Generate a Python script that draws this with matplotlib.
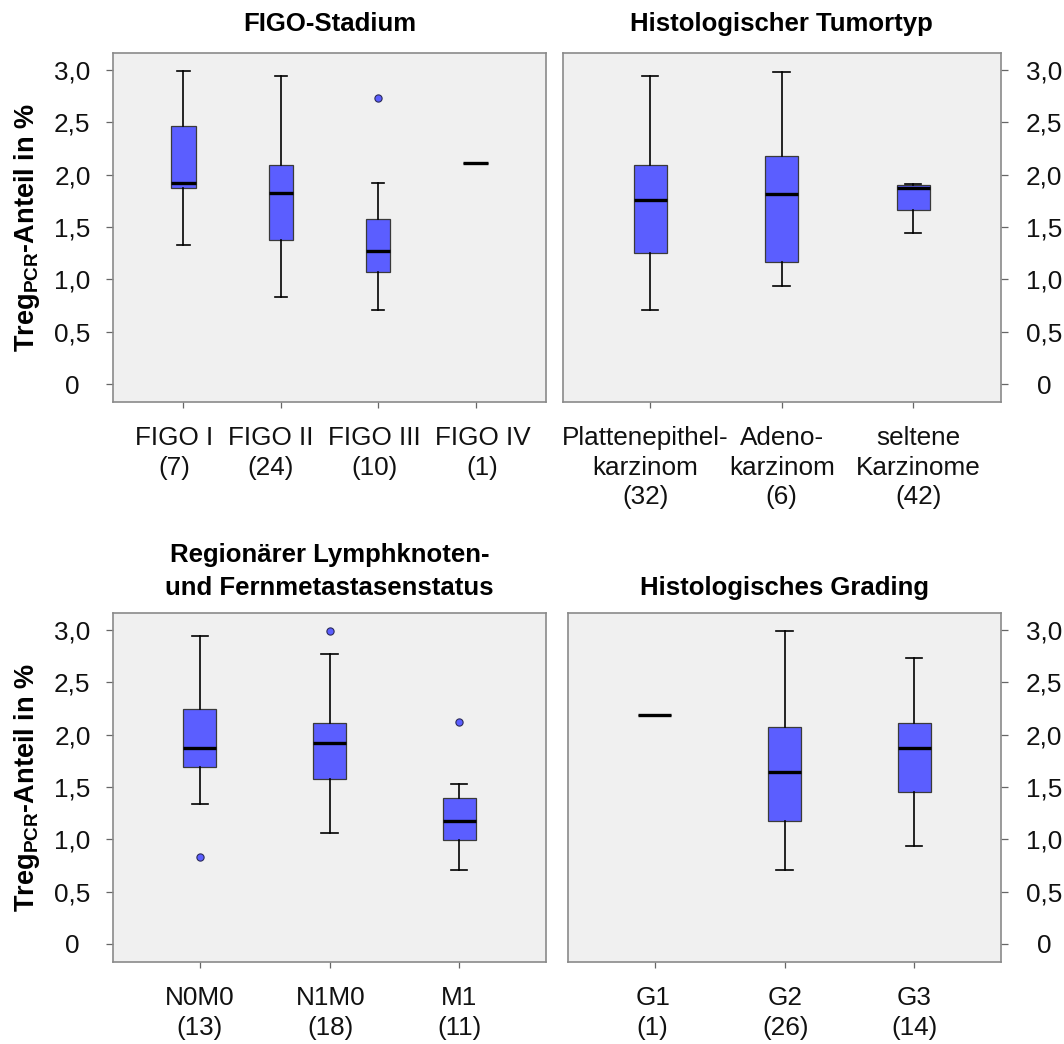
import matplotlib
matplotlib.use("Agg")
import matplotlib.pyplot as plt
from matplotlib.transforms import ScaledTranslation, blended_transform_factory

plt.rcParams["font.family"] = ["Liberation Sans", "DejaVu Sans"]
plt.rcParams["mathtext.fontset"] = "custom"
plt.rcParams["mathtext.rm"] = "Liberation Sans:bold"
plt.rcParams["mathtext.bf"] = "Liberation Sans:bold"

# ---- data: Treg_PCR share (%) by clinical group ----
figo_labels = ["FIGO I\n(7)", "FIGO II\n(24)", "FIGO III\n(10)", "FIGO IV\n(1)"]
figo_whislo = [1.33, 0.83, 0.71, 2.11]
figo_q1 = [1.87, 1.38, 1.07, 2.11]
figo_med = [1.92, 1.83, 1.27, 2.11]
figo_q3 = [2.47, 2.09, 1.58, 2.11]
figo_whishi = [2.99, 2.94, 1.92, 2.11]
figo_fliers = [[], [], [2.73], []]

histo_labels = ["Plattenepithel-\nkarzinom\n(32)", "Adeno-\nkarzinom\n(6)", "seltene\nKarzinome\n(42)"]
histo_whislo = [0.71, 0.94, 1.44]
histo_q1 = [1.25, 1.17, 1.66]
histo_med = [1.76, 1.82, 1.87]
histo_q3 = [2.09, 2.18, 1.90]
histo_whishi = [2.94, 2.98, 1.91]
histo_fliers = [[], [], []]

tnm_labels = ["N0M0\n(13)", "N1M0\n(18)", "M1\n(11)"]
tnm_whislo = [1.34, 1.06, 0.71]
tnm_q1 = [1.69, 1.58, 0.99]
tnm_med = [1.87, 1.92, 1.17]
tnm_q3 = [2.24, 2.11, 1.39]
tnm_whishi = [2.94, 2.77, 1.53]
tnm_fliers = [[0.83], [2.99], [2.12]]

grade_labels = ["G1\n(1)", "G2\n(26)", "G3\n(14)"]
grade_whislo = [2.19, 0.71, 0.94]
grade_q1 = [2.19, 1.17, 1.45]
grade_med = [2.19, 1.64, 1.87]
grade_q3 = [2.19, 2.07, 2.11]
grade_whishi = [2.19, 2.99, 2.73]
grade_fliers = [[], [], []]

ytick_values = [0, 0.5, 1.0, 1.5, 2.0, 2.5, 3.0]
ytick_labels = ["0", "0,5", "1,0", "1,5", "2,0", "2,5", "3,0"]

titles = ["FIGO-Stadium", "Histologischer Tumortyp",
          "Regionärer Lymphknoten-\nund Fernmetastasenstatus", "Histologisches Grading"]
ylabel = r"Treg$_{\mathbf{PCR}}$-Anteil in %"

BOX_COLOR = "#5B5EFF"
BG = "#F0F0F0"
FS = 18.8

# horizontal nudges (pixels) of the category labels so crowded ones don't collide
label_shift = [[-9, -10, -4, 7], [-5, 0, 5], [0, 1, 0], [-2, 1, 0]]

W, H = 1064, 1044
fig = plt.figure(figsize=(W / 100, H / 100), dpi=100)


def px_axes(left, top, right, bottom):
    return fig.add_axes([left / W, 1 - bottom / H, (right - left) / W, (bottom - top) / H])


panels = [
    (px_axes(113.3, 53, 545.7, 401.7), figo_labels, figo_whislo, figo_q1, figo_med, figo_q3, figo_whishi, figo_fliers, "left"),
    (px_axes(562.7, 53, 1000.7, 401.7), histo_labels, histo_whislo, histo_q1, histo_med, histo_q3, histo_whishi, histo_fliers, "right"),
    (px_axes(113.3, 612.7, 545.7, 961.7), tnm_labels, tnm_whislo, tnm_q1, tnm_med, tnm_q3, tnm_whishi, tnm_fliers, "left"),
    (px_axes(568.3, 612.7, 1000.7, 961.7), grade_labels, grade_whislo, grade_q1, grade_med, grade_q3, grade_whishi, grade_fliers, "right"),
]

for i, (ax, labels, lo, q1, med, q3, hi, fl, side) in enumerate(panels):
    stats = [dict(whislo=a, q1=b, med=c, q3=d, whishi=e, fliers=f)
             for a, b, c, d, e, f in zip(lo, q1, med, q3, hi, fl)]
    n = len(stats)
    pos = list(range(n))
    ax.bxp(stats, positions=pos, widths=0.25, patch_artist=True, showfliers=True,
           boxprops=dict(facecolor=BOX_COLOR, edgecolor="#3a3a3a", linewidth=0.9),
           whiskerprops=dict(color="black", linewidth=1.2),
           capprops=dict(color="black", linewidth=1.2),
           medianprops=dict(color="black", linewidth=2.4, solid_capstyle="butt"),
           flierprops=dict(marker="o", markerfacecolor=BOX_COLOR, markeredgecolor="#2a2a5a",
                           markersize=5.2, markeredgewidth=0.8))
    ax.set_facecolor(BG)
    m = 0.72 if n == 4 else 0.665
    ax.set_xlim(-m, n - 1 + m)
    ax.set_ylim(-0.169, 3.163)
    ax.set_xticks(pos)
    ax.set_xticklabels([""] * n)
    # category labels below the ticks, nudged sideways where they would crowd
    base = blended_transform_factory(ax.transData, ax.transAxes)
    for p, lbl, dx in zip(pos, labels, label_shift[i]):
        tr = base + ScaledTranslation(dx / 100, -17.5 / 72, fig.dpi_scale_trans)
        ax.text(p, 0, lbl, transform=tr, ha="center", va="top", fontsize=FS,
                linespacing=1.3, color="#111111", clip_on=False)
    ax.set_yticks(ytick_values)
    for sp in ax.spines.values():
        sp.set_color("#8a8a8a")
        sp.set_linewidth(1.2)
    ax.tick_params(axis="x", length=4.5, width=0.9, color="#666666", pad=13)
    if side == "left":
        ax.set_yticklabels(ytick_labels, fontsize=FS, color="#111111", ha="center")
        ax.tick_params(axis="y", length=5, width=0.9, color="#666666", pad=24.5)
        ax.set_ylabel(ylabel, fontsize=19.5, fontweight="bold")
        ax.yaxis.set_label_coords(-0.165, 0.5)
    else:
        ax.yaxis.tick_right()
        ax.set_yticklabels(ytick_labels, fontsize=FS, color="#111111", ha="center")
        ax.tick_params(axis="y", length=5, width=0.9, color="#666666", pad=26)
    ax.set_title(titles[i], fontsize=18.5, fontweight="bold",
                 pad=16 if i < 2 else 13, linespacing=1.45)

fig.savefig("out.png", dpi=100)
